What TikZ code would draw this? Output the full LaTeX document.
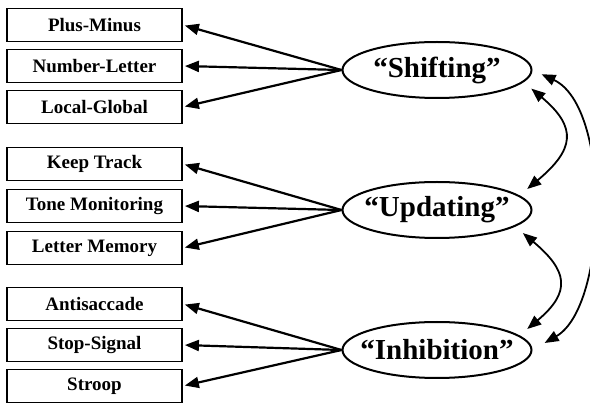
\documentclass[tikz,border=0pt]{standalone}
\usepackage{fontspec}
\setmainfont{Liberation Serif}
\usetikzlibrary{arrows.meta,shapes.geometric}
\newcommand{\nowidth}[1]{\makebox[0pt]{#1}}
\begin{document}
\begin{tikzpicture}[x=1pt,y=-1pt,
  task/.style={draw,line width=1.8pt,minimum width=175pt,minimum height=33pt,inner sep=0pt,
    font=\bfseries\fontsize{19}{19}\selectfont},
  factor/.style={draw,ellipse,line width=2pt,minimum width=189pt,minimum height=56pt,inner sep=0pt,
    font=\bfseries\fontsize{29}{29}\selectfont},
  arr/.style={line width=2.2pt,-{Triangle[length=14pt,width=11pt]},shorten >=2pt},
  darr/.style={line width=1.8pt,{Triangle[length=14pt,width=11pt]}-{Triangle[length=14pt,width=11pt]}},
]
\useasboundingbox (0,0) rectangle (590,406);
\node[task] (pm) at (94.5,25) {Plus-Minus};
\node[task] (nl) at (94.5,66) {Number-Letter};
\node[task] (lg) at (94.5,107) {Local-Global};
\node[task] (kt) at (94.5,164) {Keep Track};
\node[task] (tm) at (94.5,206) {Tone Monitoring};
\node[task] (lm) at (94.5,248) {Letter Memory};
\node[task] (as) at (94.5,304) {Antisaccade};
\node[task] (ss) at (94.5,345) {Stop-Signal};
\node[task] (st) at (94.5,386) {Stroop};
\node[factor] (sh) at (437,70) {\nowidth{“Shifting”}};
\node[factor] (up) at (437,210) {\nowidth{“Updating”}};
\node[factor] (in) at (437,350) {\nowidth{“Inhibition”}};
\foreach \t in {pm,nl,lg} \draw[arr] (sh.west) -- (\t.east);
\foreach \t in {kt,tm,lm} \draw[arr] (up.west) -- (\t.east);
\foreach \t in {as,ss,st} \draw[arr] (in.west) -- (\t.east);
\draw[darr,shorten <=10pt,shorten >=10pt] (sh.-8) to[out=-40,in=40,looseness=1.6] (up.10);
\draw[darr,shorten <=10pt,shorten >=10pt] (up.-12) to[out=-40,in=40,looseness=1.6] (in.10);
\draw[darr,shorten <=10pt,shorten >=14pt] (sh.east) to[out=-25,in=30,looseness=0.8] (in.east);
\end{tikzpicture}
\end{document}
